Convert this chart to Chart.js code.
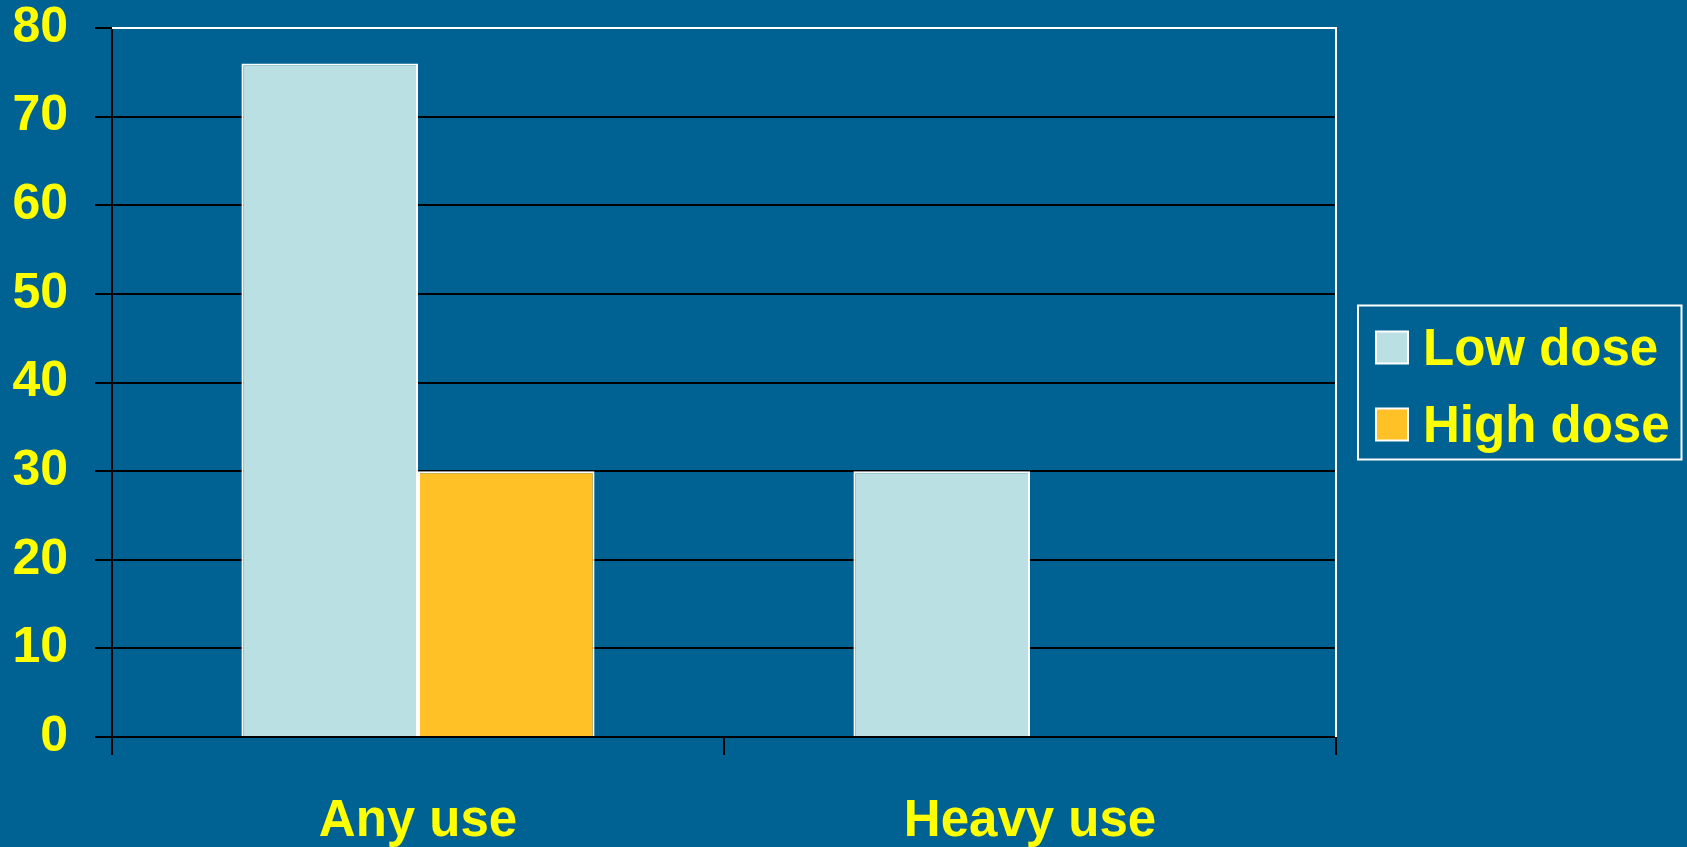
<!DOCTYPE html>
<html>
<head>
<meta charset="utf-8">
<title>Low vs high dose</title>
<script src="https://cdn.jsdelivr.net/npm/chart.js@4.4.1/dist/chart.umd.min.js"></script>
<style>
  html, body { margin: 0; padding: 0; background: #006292; }
  #wrap { width: 1687px; height: 847px; position: relative; }
</style>
</head>
<body>
<div id="wrap"><canvas id="chart"></canvas></div>
<script>
const categories = ['Any use', 'Heavy use'];
const seriesNames = ['Low dose', 'High dose'];
const lowDose = [76, 30];
const highDose = [30, null];
const yTicks = [0, 10, 20, 30, 40, 50, 60, 70, 80];

const YELLOW = '#FFFF00';
const FONT = '"Liberation Sans", Arial, sans-serif';
const FONT_SIZE = 51;
const colors = ['#BBE0E3', '#FFC125'];

// white frame on top and right of the plot, plus the boxed legend
const framePlugin = {
  id: 'frame',
  beforeDatasetsDraw(chart) {
    const { ctx, chartArea: a } = chart;
    ctx.save();
    ctx.strokeStyle = '#FFFFFF';
    ctx.lineWidth = 2;
    ctx.beginPath();
    ctx.moveTo(a.left, a.top);
    ctx.lineTo(a.right, a.top);
    ctx.lineTo(a.right, a.bottom);
    ctx.stroke();
    ctx.restore();
  },
  afterDraw(chart) {
    const { ctx, chartArea: a } = chart;
    ctx.save();
    ctx.font = 'bold ' + FONT_SIZE + 'px ' + FONT;
    const textW = Math.max(...seriesNames.map(n => ctx.measureText(n).width));
    const boxX = a.right + 22;
    const boxW = 65 + textW + 12;
    const boxH = 154;
    const boxY = (a.top + a.bottom) / 2 - boxH / 2;
    ctx.strokeStyle = '#FFFFFF';
    ctx.lineWidth = 2;
    ctx.strokeRect(boxX, boxY, boxW, boxH);
    seriesNames.forEach((name, i) => {
      const cy = boxY + 42 + i * 77;
      ctx.fillStyle = colors[i];
      ctx.fillRect(boxX + 18, cy - 16, 32, 32);
      ctx.strokeRect(boxX + 18, cy - 16, 32, 32);
      ctx.fillStyle = YELLOW;
      ctx.textBaseline = 'middle';
      ctx.textAlign = 'left';
      ctx.fillText(name, boxX + 65, cy + 3);
    });
    ctx.restore();
  }
};

const ctx = document.getElementById('chart').getContext('2d');
new Chart(ctx, {
  type: 'bar',
  data: {
    labels: categories,
    datasets: [
      {
        label: seriesNames[0],
        data: lowDose,
        backgroundColor: colors[0],
        borderColor: '#FFFFFF',
        borderWidth: 2,
        borderSkipped: 'bottom'
      },
      {
        label: seriesNames[1],
        data: highDose,
        backgroundColor: colors[1],
        borderColor: '#FFFFFF',
        borderWidth: 2,
        borderSkipped: 'bottom'
      }
    ]
  },
  options: {
    responsive: true,
    maintainAspectRatio: false,
    animation: false,
    datasets: {
      bar: { categoryPercentage: 0.577, barPercentage: 1.0 }
    },
    layout: { padding: { top: 28, right: 351, left: 0, bottom: 0 } },
    plugins: {
      legend: { display: false },
      tooltip: { enabled: false }
    },
    scales: {
      x: {
        afterFit(scale) { scale.height = 110; },
        grid: {
          offset: true,
          drawOnChartArea: false,
          drawTicks: true,
          tickLength: 18,
          color: '#000000',
          lineWidth: 2
        },
        border: { color: '#000000', width: 2 },
        ticks: {
          color: YELLOW,
          padding: 36,
          font: { family: FONT, size: FONT_SIZE, weight: 'bold', lineHeight: 1.2 }
        }
      },
      y: {
        min: 0,
        max: 80,
        afterFit(scale) {
          scale.width = 112;
          scale.paddingTop = 0;
          scale.paddingBottom = 0;
        },
        afterBuildTicks(scale) { scale.ticks = yTicks.map(v => ({ value: v })); },
        grid: {
          color: '#000000',
          lineWidth: 2,
          tickLength: 17
        },
        border: { color: '#000000', width: 2 },
        ticks: {
          color: YELLOW,
          padding: 27,
          font: { family: FONT, size: 50, weight: 'bold', lineHeight: 1.0 }
        }
      }
    }
  },
  plugins: [framePlugin]
});
</script>
</body>
</html>
